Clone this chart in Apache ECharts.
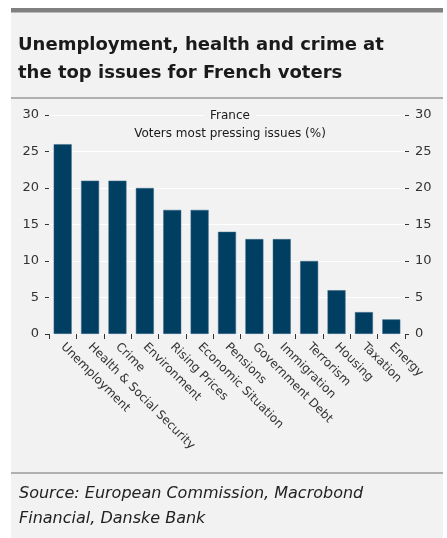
<!DOCTYPE html>
<html>
<head>
<meta charset="utf-8">
<script src="https://cdn.jsdelivr.net/npm/echarts@6/dist/echarts.min.js"></script>
<style>
  html, body { margin: 0; padding: 0; background: #fff; }
  #chart { width: 447px; height: 538px; }
</style>
</head>
<body>
<div id="chart"></div>
<script>
// voters' most pressing issues, France (%)
let issues = ['Unemployment', 'Health & Social Security', 'Crime', 'Environment', 'Rising Prices',
    'Economic Situation', 'Pensions', 'Government Debt', 'Immigration', 'Terrorism',
    'Housing', 'Taxation', 'Energy'];
let shares = [26, 21, 21, 20, 17, 17, 14, 13, 13, 10, 6, 3, 2];
let yTicks = [0, 5, 10, 15, 20, 25, 30];

let font = '"DejaVu Sans"';
let textColor = '#333';
let panelColor = '#f2f2f2';

let yAxisBase = {
    type: 'value',
    min: yTicks[0],
    max: yTicks[yTicks.length - 1],
    interval: 5,
    axisLine: { show: false },
    axisTick: { show: true, length: 4, lineStyle: { color: '#333' } },
    splitLine: { lineStyle: { color: '#ffffff', width: 1 } },
    axisLabel: { color: textColor, fontFamily: font, fontSize: 13, margin: 10 }
};

let option = {
    backgroundColor: panelColor,
    animation: false,
    graphic: [
        { type: 'rect', shape: { x: 0, y: 0, width: 447, height: 8 }, style: { fill: '#fff' } },
        { type: 'rect', shape: { x: 0, y: 0, width: 11, height: 538 }, style: { fill: '#fff' } },
        { type: 'rect', shape: { x: 443, y: 0, width: 4, height: 538 }, style: { fill: '#fff' } },
        { type: 'rect', shape: { x: 11, y: 8, width: 432, height: 4.5 }, style: { fill: '#808080' } },
        { type: 'line', shape: { x1: 11, y1: 98, x2: 443, y2: 98 }, style: { stroke: '#9a9a9a', lineWidth: 1.5 } },
        { type: 'line', shape: { x1: 11, y1: 473, x2: 443, y2: 473 }, style: { stroke: '#9a9a9a', lineWidth: 1.5 } },
        {
            type: 'text', left: 18, top: 31,
            style: {
                text: 'Unemployment, health and crime at\nthe top issues for French voters',
                fill: '#1a1a1a', font: 'bold 18px ' + font, lineHeight: 28
            }
        },
        {
            type: 'text', left: 19, top: 481,
            style: {
                text: 'Source: European Commission, Macrobond\nFinancial, Danske Bank',
                fill: '#222', font: 'italic 16px ' + font, lineHeight: 25
            }
        },
        {
            type: 'text', x: 230, y: 110, z: 10,
            style: {
                text: 'France',
                fill: '#1a1a1a', font: '12px ' + font, align: 'center',
                backgroundColor: panelColor, padding: [0, 6]
            }
        },
        {
            type: 'text', x: 230, y: 128, z: 10,
            style: {
                text: 'Voters most pressing issues (%)',
                fill: '#1a1a1a', font: '12px ' + font, align: 'center'
            }
        }
    ],
    grid: { left: 49, right: 42, top: 115, bottom: 204 },
    xAxis: {
        type: 'category',
        data: issues,
        axisLine: { show: false },
        axisTick: { show: true, length: 5, lineStyle: { color: '#333' } },
        axisLabel: {
            rotate: -45, interval: 0, color: textColor, fontFamily: font, fontSize: 12, margin: 11
        }
    },
    yAxis: [
        Object.assign({}, yAxisBase, { position: 'left' }),
        Object.assign({}, yAxisBase, { position: 'right' })
    ],
    series: [
        {
            name: 'France',
            type: 'bar',
            data: shares,
            barWidth: 18,
            itemStyle: { color: '#003f62', borderColor: '#3d6a88', borderWidth: 0.5 }
        }
    ]
};

let chart = echarts.init(document.getElementById('chart'));
chart.setOption(option);
</script>
</body>
</html>
